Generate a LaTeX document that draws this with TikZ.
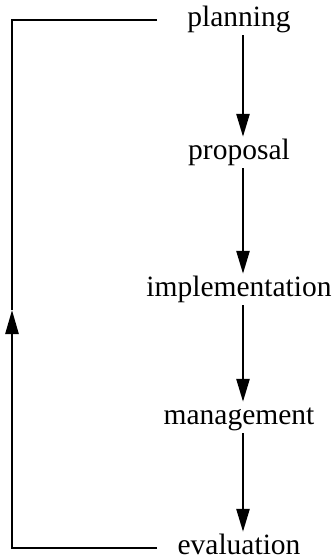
\documentclass[tikz,border=0pt]{standalone}
\usepackage{fontspec}
\setmainfont{Liberation Serif}
\usetikzlibrary{arrows.meta}
\begin{document}
\begin{tikzpicture}[x=1pt,y=-1pt,
  stage/.style={inner sep=0pt, text height=22pt, text depth=9pt, anchor=base,
    font=\fontsize{29.5}{30}\selectfont},
  flow/.style={line width=2.6pt, -{Triangle[length=23pt,width=13pt]}},
  loopline/.style={line width=2.6pt}]
\useasboundingbox (0,0) rectangle (334,560);
\node[stage] (planning) at (239,26) {planning};
\node[stage] (proposal) at (239,159) {proposal};
\node[stage] (implementation) at (239,296) {implementation};
\node[stage] (management) at (239,424) {management};
\node[stage] (evaluation) at (239,554) {evaluation};
\draw[flow] ([xshift=4pt]planning.south) -- ([xshift=4pt]proposal.north);
\draw[flow] ([xshift=4pt]proposal.south) -- ([xshift=4pt]implementation.north);
\draw[flow] ([xshift=4pt]implementation.south) -- ([xshift=4pt]management.north);
\draw[flow] ([xshift=4pt]management.south) -- ([xshift=4pt]evaluation.north);
\coordinate (te) at (157,20);
\coordinate (tl) at (12,20);
\coordinate (bl) at (12,548);
\coordinate (be) at (157,548);
\coordinate (mid) at (12,310);
\draw[loopline] (te) -- (tl) -- (mid);
\draw[loopline, -{Triangle[length=24pt,width=13pt]}] (be) -- (bl) -- (mid);
\end{tikzpicture}
\end{document}
